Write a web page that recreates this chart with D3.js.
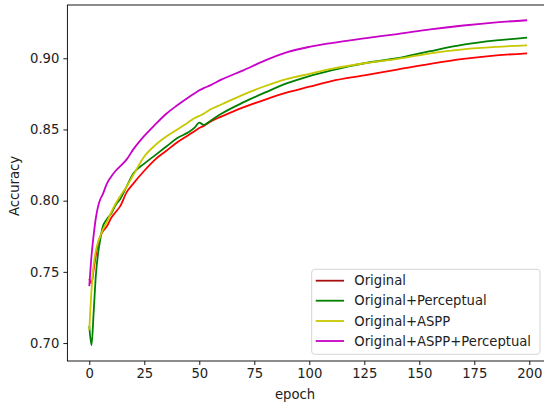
<!DOCTYPE html>
<html>
<head>
<meta charset="utf-8">
<script src="https://cdn.jsdelivr.net/npm/d3@7"></script>
<style>
  body { margin: 0; background: #fff; }
  text { font-family: "DejaVu Sans", sans-serif; }
</style>
</head>
<body>
<div id="chart"></div>
<script>
const epochs = [0,1,2,3,4,5,6,8,10,12,14,17,20,25,30,35,40,45,48,50,52,55,60,70,80,90,100,110,125,140,155,170,185,199];

const original = [0.745,0.742,0.752,0.762,0.770,0.775,0.778,0.782,0.788,0.792,0.796,0.806,0.812,0.821,0.829,0.835,0.841,0.846,0.849,0.851,0.8525,0.8555,0.859,0.8655,0.871,0.876,0.880,0.884,0.888,0.892,0.896,0.8995,0.902,0.9035];
const perceptual = [0.712,0.6985,0.722,0.748,0.763,0.773,0.781,0.787,0.791,0.797,0.801,0.810,0.819,0.826,0.832,0.838,0.844,0.848,0.8515,0.8548,0.8532,0.856,0.861,0.869,0.876,0.8825,0.8875,0.8915,0.8965,0.900,0.905,0.9095,0.9125,0.9145];
const aspp = [0.709,0.737,0.755,0.765,0.771,0.775,0.779,0.785,0.792,0.798,0.803,0.810,0.818,0.831,0.839,0.845,0.850,0.855,0.858,0.8595,0.861,0.864,0.8675,0.8745,0.8805,0.8855,0.889,0.8925,0.8965,0.8995,0.9035,0.9063,0.908,0.9091];
const asppPerceptual = [0.740,0.761,0.776,0.788,0.796,0.801,0.804,0.812,0.817,0.821,0.824,0.829,0.836,0.8455,0.8535,0.861,0.867,0.8725,0.8755,0.8775,0.879,0.881,0.885,0.8915,0.8985,0.9043,0.908,0.9107,0.914,0.917,0.9203,0.923,0.9252,0.9267];

const seriesNames = ["Original", "Original+Perceptual", "Original+ASPP", "Original+ASPP+Perceptual"];
const seriesColors = ["#ff0000", "#008000", "#c8c800", "#c800c8"];
const legendColors = ["#a81010", "#008000", "#c8c800", "#c800c8"];
const xTicks = [0, 25, 50, 75, 100, 125, 150, 175, 200];
const yTicks = [0.70, 0.75, 0.80, 0.85, 0.90];

const W = 544, H = 406;
const margin = {top: 5, right: -5, bottom: 45, left: 67.4};
const fontSize = "13.2px";

const svg = d3.select("#chart").append("svg")
  .attr("width", W).attr("height", H);

const x = d3.scaleLinear().domain([-9.95, 208.95]).range([margin.left, W - margin.right]);
const y = d3.scaleLinear().domain([0.6874, 0.9374]).range([H - margin.bottom, margin.top]);

const series = [original, perceptual, aspp, asppPerceptual];

const line = d3.line()
  .x((d, i) => x(epochs[i]))
  .y(d => y(d))
  .curve(d3.curveMonotoneX);

const plot = svg.append("g");
series.forEach((s, k) => {
  plot.append("path")
    .datum(s)
    .attr("fill", "none")
    .attr("stroke", seriesColors[k])
    .attr("stroke-width", 1.8)
    .attr("stroke-linejoin", "round")
    .attr("d", line);
});

// spines
svg.append("rect")
  .attr("x", margin.left).attr("y", margin.top)
  .attr("width", W - margin.right - margin.left)
  .attr("height", H - margin.bottom - margin.top)
  .attr("fill", "none").attr("stroke", "#000").attr("stroke-width", 0.9);

const xAxis = svg.append("g")
  .attr("transform", `translate(0,${H - margin.bottom})`)
  .call(d3.axisBottom(x).tickValues(xTicks).tickSize(4).tickPadding(4).tickFormat(d3.format("d")));
const yAxis = svg.append("g")
  .attr("transform", `translate(${margin.left},0)`)
  .call(d3.axisLeft(y).tickValues(yTicks).tickSize(4).tickPadding(4).tickFormat(d3.format(".2f")));

[xAxis, yAxis].forEach(g => {
  g.select(".domain").remove();
  g.selectAll(".tick line").attr("stroke", "#000").attr("stroke-width", 0.9);
  g.selectAll(".tick text")
    .attr("fill", "#222")
    .style("font-size", fontSize)
    .style("font-family", "'DejaVu Sans', sans-serif");
});

svg.append("text")
  .attr("x", 295).attr("y", 399)
  .attr("text-anchor", "middle")
  .attr("fill", "#222")
  .style("font-size", fontSize)
  .text("epoch");

svg.append("text")
  .attr("transform", "translate(19,186) rotate(-90)")
  .attr("text-anchor", "middle")
  .attr("fill", "#222")
  .style("font-size", fontSize)
  .text("Accuracy");

// legend
const legend = svg.append("g");
legend.append("rect")
  .attr("x", 311.7).attr("y", 269.3)
  .attr("width", 228.3).attr("height", 85)
  .attr("rx", 3)
  .attr("fill", "#fff").attr("fill-opacity", 0.8)
  .attr("stroke", "#d0d0d0").attr("stroke-width", 0.9);

const legendY = [280.7, 300.7, 321, 341];
seriesNames.forEach((name, k) => {
  legend.append("line")
    .attr("x1", 315.7).attr("x2", 344)
    .attr("y1", legendY[k]).attr("y2", legendY[k])
    .attr("stroke", legendColors[k]).attr("stroke-width", 1.8);
  legend.append("text")
    .attr("x", 354.3).attr("y", legendY[k])
    .attr("dy", "0.35em")
    .attr("fill", "#222")
    .style("font-size", fontSize)
    .text(name);
});
</script>
</body>
</html>
